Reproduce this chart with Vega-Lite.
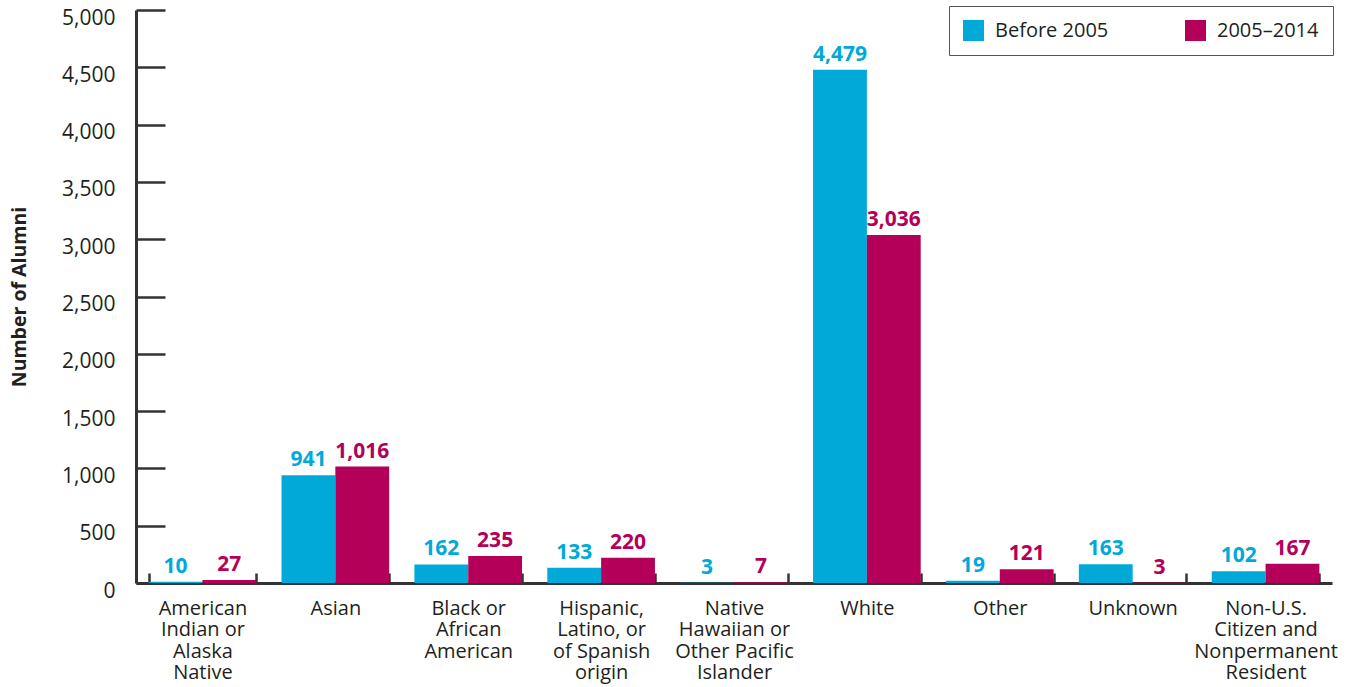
{
  "$schema": "https://vega.github.io/schema/vega-lite/v6.json",
  "width": 1196,
  "height": 573,
  "autosize": {"type": "none"},
  "padding": {"left": 136, "top": 10, "right": 24, "bottom": 104},
  "background": "white",
  "config": {
    "view": {"stroke": null},
    "font": "Open Sans"
  },
  "data": {
    "values": [
      {"category": "American|Indian or|Alaska|Native", "period": "Before 2005", "alumni": 10},
      {"category": "American|Indian or|Alaska|Native", "period": "2005–2014", "alumni": 27},
      {"category": "Asian", "period": "Before 2005", "alumni": 941},
      {"category": "Asian", "period": "2005–2014", "alumni": 1016},
      {"category": "Black or|African|American", "period": "Before 2005", "alumni": 162},
      {"category": "Black or|African|American", "period": "2005–2014", "alumni": 235},
      {"category": "Hispanic,|Latino, or|of Spanish|origin", "period": "Before 2005", "alumni": 133},
      {"category": "Hispanic,|Latino, or|of Spanish|origin", "period": "2005–2014", "alumni": 220},
      {"category": "Native|Hawaiian or|Other Pacific|Islander", "period": "Before 2005", "alumni": 3},
      {"category": "Native|Hawaiian or|Other Pacific|Islander", "period": "2005–2014", "alumni": 7},
      {"category": "White", "period": "Before 2005", "alumni": 4479},
      {"category": "White", "period": "2005–2014", "alumni": 3036},
      {"category": "Other", "period": "Before 2005", "alumni": 19},
      {"category": "Other", "period": "2005–2014", "alumni": 121},
      {"category": "Unknown", "period": "Before 2005", "alumni": 163},
      {"category": "Unknown", "period": "2005–2014", "alumni": 3},
      {"category": "Non-U.S.|Citizen and|Nonpermanent|Resident", "period": "Before 2005", "alumni": 102},
      {"category": "Non-U.S.|Citizen and|Nonpermanent|Resident", "period": "2005–2014", "alumni": 167}
    ]
  },
  "encoding": {
    "x": {
      "field": "category",
      "type": "nominal",
      "sort": null,
      "scale": {"paddingInner": 0.19, "paddingOuter": 0.095},
      "axis": {
        "title": null,
        "labelAngle": 0,
        "labelExpr": "split(datum.label, '|')",
        "labelFontSize": 20,
        "labelLineHeight": 21.5,
        "labelColor": "#231f20",
        "labelBaseline": "top",
        "labelPadding": 25,
        "tickBand": "extent",
        "tickSize": -10,
        "tickWidth": 2.5,
        "tickColor": "#333333",
        "domainColor": "#333333",
        "domainWidth": 3,
        "labelLimit": 0
      }
    },
    "xOffset": {"field": "period", "type": "nominal", "sort": ["Before 2005", "2005–2014"]},
    "y": {
      "field": "alumni",
      "type": "quantitative",
      "scale": {"domain": [0, 5000], "nice": false},
      "axis": {
        "title": "Number of Alumni",
        "titleFontSize": 19.5,
        "titleFontWeight": "bold",
        "titleColor": "#231f20",
        "titlePadding": 32,
        "values": [0, 500, 1000, 1500, 2000, 2500, 3000, 3500, 4000, 4500, 5000],
        "format": ",d",
        "labelFontSize": 21,
        "labelColor": "#231f20",
        "labelOffset": 8,
        "labelPadding": 50,
        "tickSize": -29,
        "tickWidth": 2.5,
        "tickColor": "#333333",
        "domainColor": "#333333",
        "domainWidth": 3,
        "grid": false
      }
    },
    "color": {
      "field": "period",
      "type": "nominal",
      "sort": ["Before 2005", "2005–2014"],
      "scale": {"domain": ["Before 2005", "2005–2014"], "range": ["#00a9d8", "#b40058"]},
      "legend": {
        "title": null,
        "orient": "none",
        "legendX": 813,
        "legendY": -4,
        "direction": "horizontal",
        "columns": 2,
        "columnPadding": 76,
        "symbolType": "square",
        "symbolSize": 441,
        "symbolStrokeWidth": 0,
        "symbolOpacity": 1,
        "labelFontSize": 20,
        "labelColor": "#231f20",
        "labelOffset": 11,
        "padding": 14,
        "strokeColor": "#555555",
        "fillColor": "white"
      }
    }
  },
  "layer": [
    {"mark": {"type": "bar", "opacity": 1}},
    {
      "mark": {"type": "text", "fontSize": 21, "fontWeight": "bold", "baseline": "alphabetic", "dy": -9},
      "encoding": {
        "text": {"field": "alumni", "type": "quantitative", "format": ","}
      }
    }
  ]
}
